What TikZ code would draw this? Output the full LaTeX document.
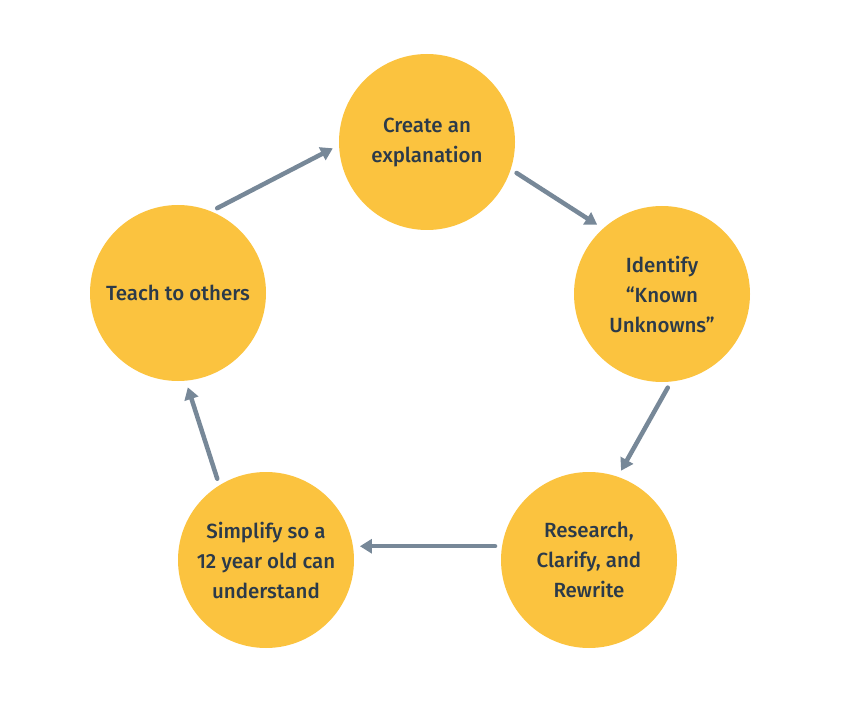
\documentclass[tikz,border=0pt]{standalone}
\usepackage{fontspec}
\setmainfont{Fira Sans}[UprightFont=* Medium]
\usepackage{tikz}
\usetikzlibrary{positioning, arrows.meta}
\definecolor{stepyellow}{HTML}{FBC33F}
\definecolor{steptext}{HTML}{2B3A4A}
\definecolor{steparrow}{HTML}{778898}

\begin{document}
\begin{tikzpicture}[
			% GLOBAL CFG
			x=1pt, y=-1pt,
			font=\fontsize{20.5}{30}\selectfont,
			% Styles
			stage/.style={% For the yellow circles
				circle,
				fill=stepyellow,
				text=steptext,
				minimum size=176pt,
				inner sep=0pt,
				outer sep=0pt,
				align=center,
			},
			flow/.style={% For the arrows between stages
				-{Triangle[width=14pt,length=12pt]},
				draw=steparrow,
				line width=4.5pt,
				line cap=round,
				shorten <=7pt,
				shorten >=7pt,
			},
			]
			% Fix the page size
			\useasboundingbox (0,0) rectangle (851,711);
			
			% Draw the stages
			\node [stage] (create) at (427,142) {Create an\\explanation};
			\node [stage] (identify) at (662,294) {Identify\\``Known\\Unknowns''};
			\node [stage] (research) at (589,560) {Research,\\Clarify, and\\Rewrite};
			\node [stage] (simplify) at (266,560) {Simplify so a\\12 year old can\\understand};
			\node [stage] (teach) at (178,293) {Teach to others};
			
			% Drawing arrows
			\draw [flow] (teach.68) -- (create.182);
			\draw [flow] (create.-18) -- (identify.132);
			\draw [flow] (identify.-84) -- (research.71);
			\draw [flow] (research.171) -- (simplify.9);
			\draw [flow] (simplify.122) -- (teach.-85);
			
		\end{tikzpicture}
\end{document}
